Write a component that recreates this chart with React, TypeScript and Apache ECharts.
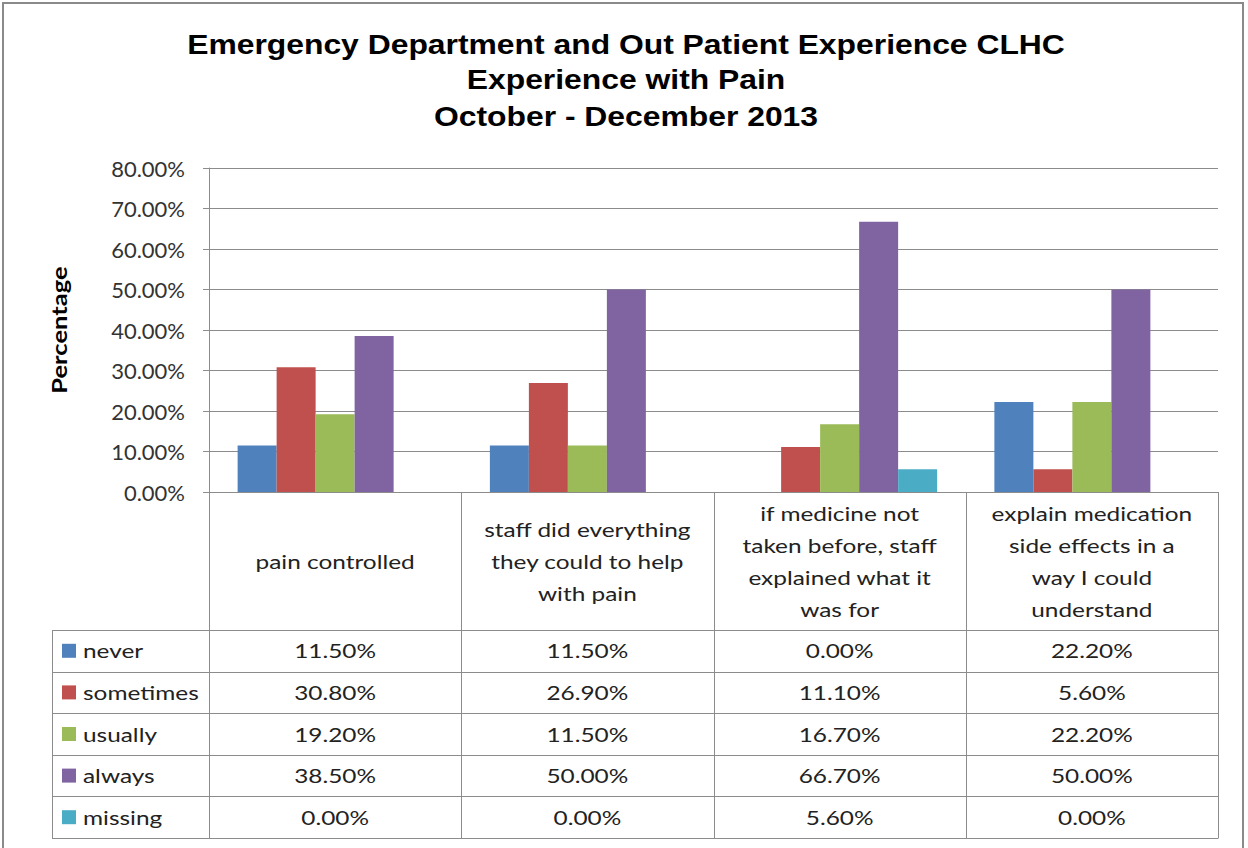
import React, { useEffect, useRef } from "react";
import * as echarts from "echarts";

const categories = [
  "pain controlled",
  "staff did everything they could to help with pain",
  "if medicine not taken before, staff explained what it was for",
  "explain medication side effects in a way I could understand",
];
const categoryLabels = [
  "pain controlled",
  "staff did everything\nthey could to help\nwith pain",
  "if medicine not\ntaken before, staff\nexplained what it\nwas for",
  "explain medication\nside effects in a\nway I could\nunderstand",
];
const seriesNames = ["never", "sometimes", "usually", "always", "missing"];
const never = [11.5, 11.5, 0.0, 22.2];
const sometimes = [30.8, 26.9, 11.1, 5.6];
const usually = [19.2, 11.5, 16.7, 22.2];
const always = [38.5, 50.0, 66.7, 50.0];
const missing = [0.0, 0.0, 5.6, 0.0];
const seriesValues = [never, sometimes, usually, always, missing];
const colors = ["#4F81BD", "#C0504D", "#9BBB59", "#8064A2", "#4BACC6"];
const titleLines = [
  "Emergency Department and Out Patient Experience CLHC",
  "Experience with Pain",
  "October - December 2013",
];
const yAxisTitle = "Percentage";

export default function App() {
  const ref = useRef<HTMLDivElement>(null);
  useEffect(() => {
    const chart = echarts.init(ref.current!, undefined, { renderer: "svg" });
    const W = 1248;
    const gL = 209, gR = 1218, gT = 168, gB = 492;
    const headerBottom = 630;
    const rowH = 41.6;
    const tableLeft = 52;
    const lineColor = "#8c8c8c";
    const font = "Lato, 'Open Sans', sans-serif";
    const sx = 1.22;
    const colW = (gR - gL) / categories.length;

    const g: any[] = [];
    // outer frame
    g.push({ type: "rect", shape: { x: 3, y: 3, width: 1240, height: 880 }, style: { fill: "none", stroke: "#8a8a8a", lineWidth: 2 }, silent: true });
    // title
    const titleY = [44, 79, 116];
    titleLines.forEach((t, i) => {
      g.push({ type: "text", x: 626, y: titleY[i], scaleX: 1.18, style: { text: t, font: `bold 27px 'Liberation Sans', Arial, sans-serif`, fill: "#000", align: "center", verticalAlign: "middle" } });
    });
    // y axis title
    g.push({ type: "text", x: 59, y: 330, rotation: Math.PI / 2, scaleX: 1.28, style: { text: yAxisTitle, font: `bold 20px ${font}`, fill: "#000", align: "center", verticalAlign: "middle" } });
    // vertical lines of table
    for (let i = 0; i <= categories.length; i++) {
      const x = Math.round(gL + i * colW) + 0.5;
      g.push({ type: "line", shape: { x1: x, y1: gB, x2: x, y2: headerBottom + rowH * 5 }, style: { stroke: lineColor, lineWidth: 1 } });
    }
    g.push({ type: "line", shape: { x1: tableLeft + 0.5, y1: headerBottom, x2: tableLeft + 0.5, y2: headerBottom + rowH * 5 }, style: { stroke: lineColor, lineWidth: 1 } });
    // horizontal lines
    for (let r = 0; r <= 5; r++) {
      const y = Math.round(headerBottom + r * rowH) + 0.5;
      g.push({ type: "line", shape: { x1: tableLeft, y1: y, x2: gR + 0.5, y2: y }, style: { stroke: lineColor, lineWidth: 1 } });
    }
    // header labels
    categoryLabels.forEach((lab, i) => {
      g.push({ type: "text", x: gL + (i + 0.5) * colW, y: (gB + headerBottom) / 2, scaleX: sx, style: { text: lab, font: `20px ${font}`, fill: "#222", align: "center", verticalAlign: "middle", lineHeight: 32 } });
    });
    // rows
    seriesNames.forEach((name, r) => {
      const cy = headerBottom + (r + 0.5) * rowH;
      g.push({ type: "rect", shape: { x: 62, y: cy - 7, width: 14, height: 14 }, style: { fill: colors[r] } });
      g.push({ type: "text", x: 83, y: cy, scaleX: sx, style: { text: name, font: `20px ${font}`, fill: "#222", align: "left", verticalAlign: "middle" } });
      seriesValues[r].forEach((v, i) => {
        g.push({ type: "text", x: gL + (i + 0.5) * colW, y: cy, scaleX: sx, style: { text: v.toFixed(2) + "%", font: `20px ${font}`, fill: "#222", align: "center", verticalAlign: "middle" } });
      });
    });

    chart.setOption({
      animation: false,
      backgroundColor: "#ffffff",
      grid: { left: gL, right: W - gR, top: gT, bottom: 848 - gB, containLabel: false },
      xAxis: {
        type: "category",
        data: categories,
        axisLine: { show: true, lineStyle: { color: lineColor, width: 1 } },
        axisTick: { show: false },
        axisLabel: { show: false },
        splitLine: { show: false },
      },
      yAxis: {
        type: "value",
        min: 0,
        max: 80,
        interval: 10,
        axisLine: { show: true, lineStyle: { color: lineColor, width: 1 } },
        axisTick: { show: true, length: 6, lineStyle: { color: lineColor } },
        axisLabel: { formatter: (v: number) => v.toFixed(2) + "%", fontFamily: font, fontSize: 22, color: "#333", margin: 24 },
        splitLine: { show: true, lineStyle: { color: lineColor, width: 1 } },
      },
      series: seriesNames.map((n, i) => ({
        name: n,
        type: "bar",
        data: seriesValues[i],
        barWidth: 39,
        barGap: "0%",
        itemStyle: { color: colors[i] },
      })),
      graphic: g,
    });
    return () => chart.dispose();
  }, []);
  return <div ref={ref} style={{ position: "absolute", left: 0, top: 0, width: 1248, height: 848 }} />;
}
